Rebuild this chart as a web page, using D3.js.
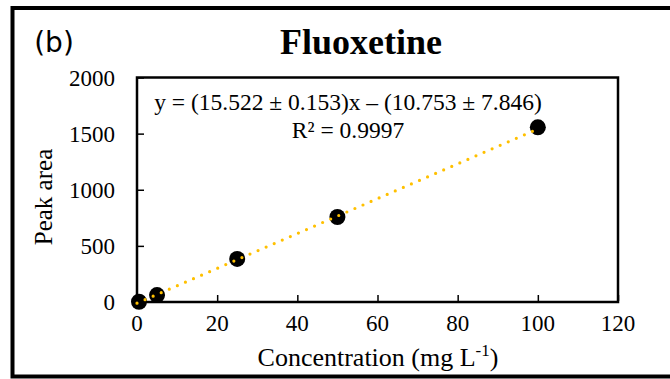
<!DOCTYPE html>
<html>
<head>
<meta charset="utf-8">
<script src="https://cdn.jsdelivr.net/npm/d3@7"></script>
<style>
  body { margin: 0; background: #fff; }
  svg { display: block; }
  text.serif { font-family: "Liberation Serif", "Times New Roman", serif; fill: #000; }
</style>
</head>
<body>
<div id="chart"></div>
<script>
// calibration data
const concentration = [0.5, 5, 25, 50, 100];
const peakArea = [2, 62, 384, 757, 1556];
const xTicks = [0, 20, 40, 60, 80, 100, 120];
const yTicks = [0, 500, 1000, 1500, 2000];
const fitSlope = 15.522;
const fitIntercept = -10.753;
const equationText = "y = (15.522 ± 0.153)x – (10.753 ± 7.846)";
const r2Text = "R² = 0.9997";

let width = 670;
let height = 379;

let svg = d3.select("#chart")
    .append("svg")
    .attr("width", width)
    .attr("height", height);

svg.append("rect")
    .attr("width", width)
    .attr("height", height)
    .attr("fill", "#fff");

// outer frame (right side runs off the picture)
svg.append("rect")
    .attr("x", 12.5)
    .attr("y", 8)
    .attr("width", 700)
    .attr("height", 368.5)
    .attr("fill", "none")
    .attr("stroke", "#000")
    .attr("stroke-width", 4);

let x = d3.scaleLinear().domain([0, 120]).range([137, 618]);
let y = d3.scaleLinear().domain([0, 2000]).range([302, 77.5]);

// plot area box
svg.append("rect")
    .attr("x", x(0))
    .attr("y", y(2000))
    .attr("width", x(120) - x(0))
    .attr("height", y(0) - y(2000))
    .attr("fill", "none")
    .attr("stroke", "#000")
    .attr("stroke-width", 2.5);

// axes, ticks pointing inward; labels drawn separately
let xAxis = svg.append("g")
    .attr("transform", "translate(0," + (y(0) - 1) + ")")
    .call(d3.axisBottom(x).tickValues(xTicks).tickSize(-6).tickFormat(() => ""));
let yAxis = svg.append("g")
    .attr("transform", "translate(" + (x(0) + 1) + ",0)")
    .call(d3.axisLeft(y).tickValues(yTicks).tickSize(-6).tickFormat(() => ""));
for (let ax of [xAxis, yAxis]) {
    ax.select(".domain").remove();
    ax.selectAll(".tick line").attr("stroke", "#000").attr("stroke-width", 1.5);
    ax.selectAll(".tick text").remove();
}

svg.append("g").selectAll("text")
    .data(xTicks)
    .enter().append("text")
    .attr("class", "serif")
    .attr("x", d => x(d))
    .attr("y", y(0) + 29)
    .attr("text-anchor", "middle")
    .style("font-size", "23px")
    .text(d => d);

svg.append("g").selectAll("text")
    .data(yTicks)
    .enter().append("text")
    .attr("class", "serif")
    .attr("x", 115)
    .attr("y", d => y(d) + 8)
    .attr("text-anchor", "end")
    .style("font-size", "23px")
    .text(d => d);

// data points
svg.selectAll(".pt")
    .data(concentration)
    .enter()
    .append("circle")
    .attr("class", "pt")
    .attr("cx", d => x(d))
    .attr("cy", (d, i) => y(peakArea[i]))
    .attr("r", 8)
    .attr("fill", "#000");

// linear trendline over the data range, dotted
let xr = d3.extent(concentration);
let line = d3.line().x(d => x(d)).y(d => y(fitSlope * d + fitIntercept));
svg.append("path")
    .datum([0, xr[1]])
    .attr("d", line)
    .attr("fill", "none")
    .attr("stroke", "#FFC000")
    .attr("stroke-width", 3.2)
    .attr("stroke-linecap", "round")
    .attr("stroke-dasharray", "0 8.8");

// equation
svg.append("text")
    .attr("class", "serif")
    .attr("x", 348)
    .attr("y", 110)
    .attr("text-anchor", "middle")
    .style("font-size", "23.5px")
    .text(equationText);
svg.append("text")
    .attr("class", "serif")
    .attr("x", 348)
    .attr("y", 138)
    .attr("text-anchor", "middle")
    .style("font-size", "23.5px")
    .text(r2Text);

// title and panel tag
svg.append("text")
    .attr("class", "serif")
    .attr("x", 361)
    .attr("y", 54)
    .attr("text-anchor", "middle")
    .style("font-weight", "bold")
    .style("font-size", "36px")
    .text("Fluoxetine");
svg.append("text")
    .attr("x", 54)
    .attr("y", 52)
    .attr("text-anchor", "middle")
    .style("font-family", "'DejaVu Sans', sans-serif")
    .style("font-size", "28px")
    .text("(b)");

// axis titles
let xl = svg.append("text")
    .attr("class", "serif")
    .attr("x", 378)
    .attr("y", 366)
    .attr("text-anchor", "middle")
    .style("font-size", "26px");
xl.append("tspan").text("Concentration (mg L");
xl.append("tspan").attr("dy", -10).style("font-size", "17px").text("-1");
xl.append("tspan").attr("dy", 10).text(")");

svg.append("text")
    .attr("class", "serif")
    .attr("transform", "translate(52,197) rotate(-90)")
    .attr("text-anchor", "middle")
    .style("font-size", "25px")
    .text("Peak area");
</script>
</body>
</html>
